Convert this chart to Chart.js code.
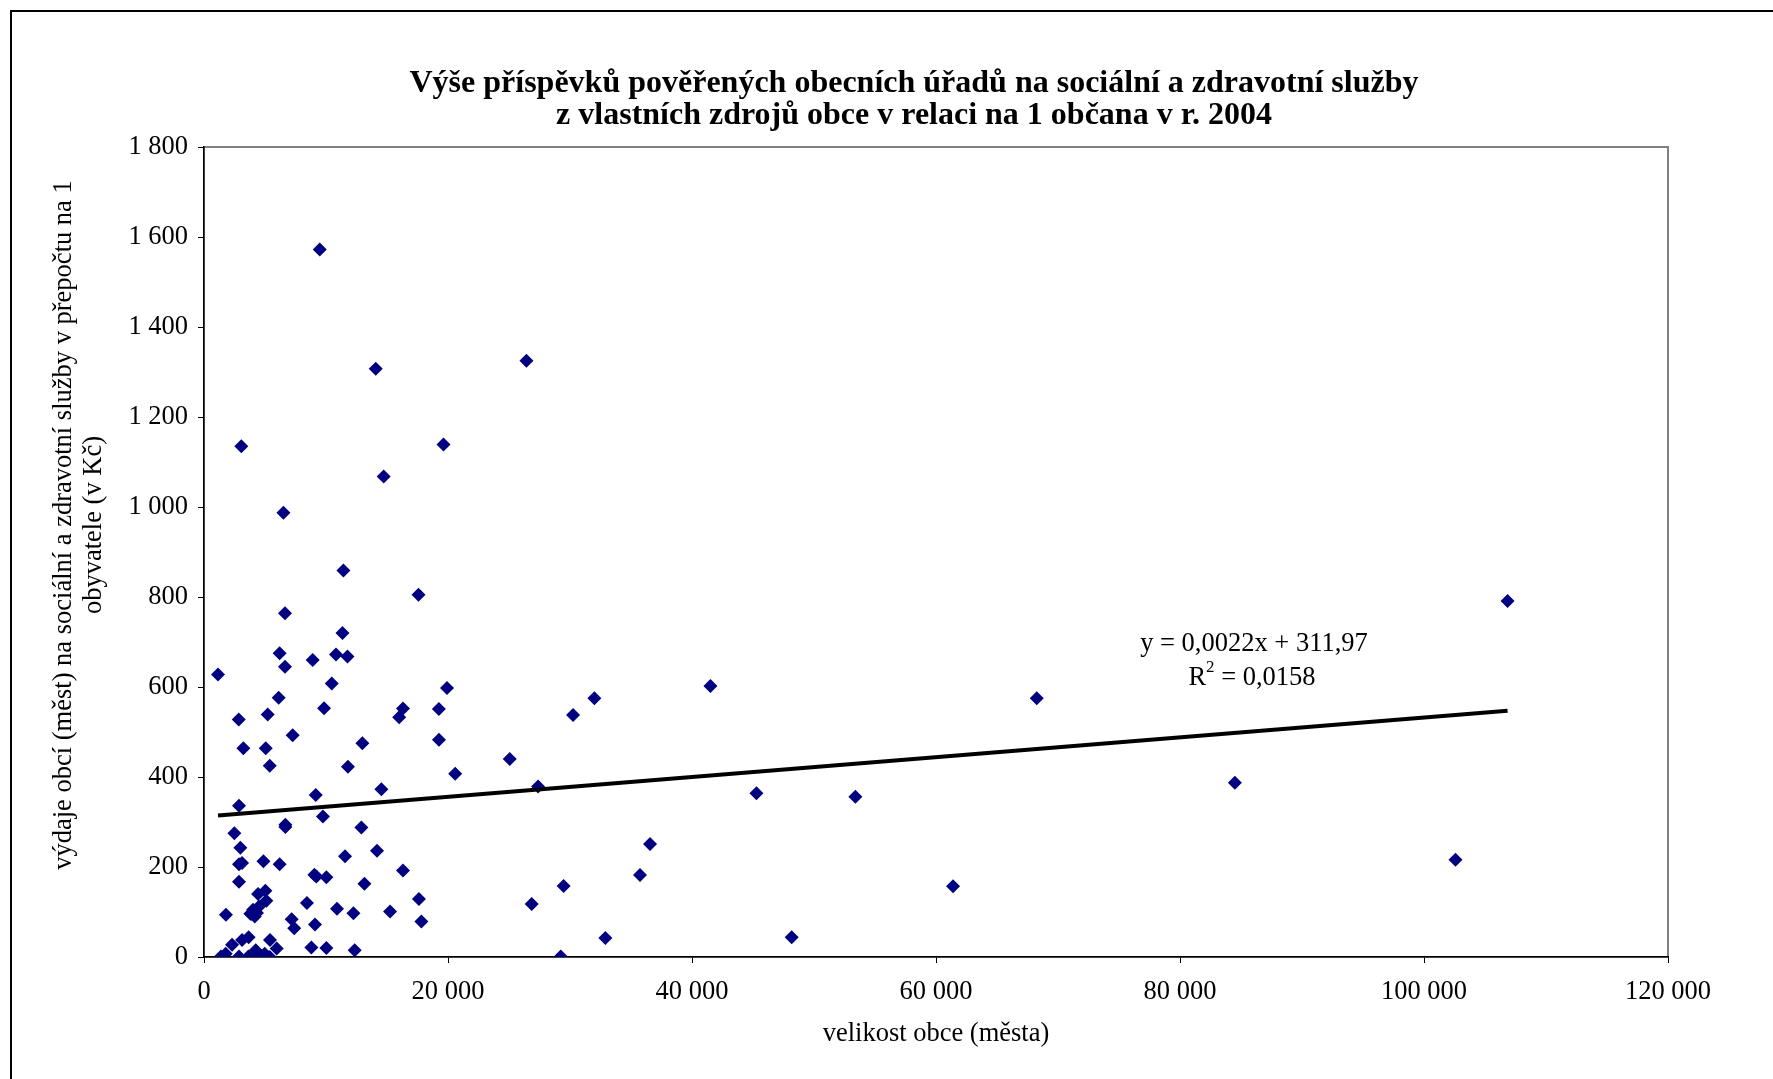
<!DOCTYPE html>
<html>
<head>
<meta charset="utf-8">
<script src="https://cdn.jsdelivr.net/npm/chart.js@4/dist/chart.umd.min.js"></script>
<style>
  html, body { margin: 0; padding: 0; background: #fff; overflow: hidden; }
  #wrap { position: relative; width: 1773px; height: 1079px; }
  #frame { position: absolute; left: 10px; top: 10px; width: 1800px; height: 1100px; border: 2px solid #000; box-sizing: border-box; pointer-events: none; }
</style>
</head>
<body>
<div id="wrap">
  <canvas id="scatterChart" width="1773" height="1079"></canvas>
  <div id="frame"></div>
</div>
<script>
// velikost obce (počet obyvatel)
const popSize = [
  1150, 9490, 3060, 14080, 26430, 19630, 14730, 6510, 11430, 17580,
  6640, 11350, 106850, 6200, 10820, 11760, 8910, 6640, 41510, 19920,
  10470, 6120, 32000, 68260, 9840, 16310, 19250, 16000, 30250, 5220,
  2850, 7270, 19260, 3230, 5060, 12980, 25060, 5390, 11800, 20590,
  84500, 27380, 14540, 45280, 53390, 9160, 2870, 9750, 6670, 6670,
  12900, 2490, 2980, 36560, 14180, 11560, 102580, 4870, 6200, 2870,
  3120, 16310, 35740, 9050, 9210, 10030, 2870, 13150, 29480, 61400,
  5030, 4430, 5110, 17620, 26860, 8440, 10900, 12250, 15250, 4020,
  4510, 4340, 3890, 1800, 17820, 7190, 7400, 9100, 2300, 3120,
  3660, 5410, 5960, 8800, 10030, 12350, 32900, 48170, 29240, 1390,
  1780, 2870, 3640, 4240, 4620, 4980, 5390, 4160, 3800
]

// výdaje na 1 obyvatele (Kč)
const perCapita = [
  628, 1572, 1135, 1307, 1325, 1139, 1068, 987, 859, 805,
  764, 720, 791, 675, 672, 668, 660, 645, 602, 598,
  608, 576, 575, 575, 553, 552, 551, 533, 538, 539,
  528, 493, 483, 464, 464, 475, 440, 425, 423, 407,
  387, 379, 373, 364, 356, 360, 336, 312, 294, 289,
  288, 275, 243, 251, 236, 224, 216, 213, 206, 206,
  209, 192, 182, 183, 179, 177, 167, 163, 158, 157,
  147, 140, 125, 129, 118, 120, 107, 97, 101, 105,
  112, 98, 96, 94, 79, 84, 64, 72, 27, 38,
  44, 38, 19, 21, 20, 15, 42, 44, 1, 1,
  7, 1, 1, 15, 1, 7, 0, 90, 96
]

// lineární trend (Excel)
const trendSlope = 0.0022
const trendIntercept = 311.97
const trendLabel = ["y = 0,0022x + 311,97", "R", "2", " = 0,0158"]

const chartTitle = [
  "Výše příspěvků pověřených obecních úřadů na sociální a zdravotní služby",
  "z vlastních zdrojů obce v relaci na 1 občana v r. 2004"
]
const yTitle = [
  "výdaje obcí (měst) na sociální a zdravotní služby v přepočtu na 1",
  "obyvatele (v Kč)"
]
const xTitle = "velikost obce (města)"

const xTicksMax = 120000
const xStep = 20000
const yTicksMax = 1800
const yStep = 200

const serif = '"Liberation Serif", "Times New Roman", serif'

let points = popSize.map((x, i) => ({ x: x, y: perCapita[i] }))
let xMin = Math.min(...popSize)
let xMax = Math.max(...popSize)
let trendPoints = [
  { x: xMin, y: trendIntercept + trendSlope * xMin },
  { x: xMax, y: trendIntercept + trendSlope * xMax }
]

function spaced(v) {
  return String(v).replace(/\B(?=(\d{3})+(?!\d))/g, ' ')
}

const excelExtras = {
  id: 'excelExtras',
  beforeDraw(chart) {
    const ctx = chart.ctx
    const a = chart.chartArea
    ctx.save()
    ctx.fillStyle = '#fff'
    ctx.fillRect(0, 0, chart.width, chart.height)
    ctx.strokeStyle = '#808080'
    ctx.lineWidth = 2
    ctx.strokeRect(a.left, a.top, a.right - a.left, a.bottom - a.top)
    ctx.restore()
  },
  afterDraw(chart) {
    const ctx = chart.ctx
    ctx.save()
    ctx.fillStyle = '#000'
    ctx.textAlign = 'center'
    ctx.textBaseline = 'middle'

    // nadpis
    ctx.font = 'bold 32px ' + serif
    ctx.fillText(chartTitle[0], 914, 84)
    ctx.fillText(chartTitle[1], 914, 116)

    // popis osy y
    ctx.font = '26.5px ' + serif
    ctx.save()
    ctx.translate(64, 525)
    ctx.rotate(-Math.PI / 2)
    ctx.fillText(yTitle[0], 0, 0)
    ctx.restore()
    ctx.save()
    ctx.translate(94, 525)
    ctx.rotate(-Math.PI / 2)
    ctx.fillText(yTitle[1], 0, 0)
    ctx.restore()

    // rovnice trendu
    ctx.font = '26.5px ' + serif
    ctx.fillText(trendLabel[0], 1254, 644)
    ctx.textAlign = 'left'
    let wR = ctx.measureText(trendLabel[1]).width
    let wRest = ctx.measureText(trendLabel[3]).width
    ctx.font = '17px ' + serif
    let wSup = ctx.measureText(trendLabel[2]).width
    let start = 1252 - (wR + wSup + wRest) / 2
    ctx.font = '26.5px ' + serif
    ctx.fillText(trendLabel[1], start, 678)
    ctx.fillText(trendLabel[3], start + wR + wSup, 678)
    ctx.font = '17px ' + serif
    ctx.fillText(trendLabel[2], start + wR, 668)
    ctx.restore()
  }
}

let scatterChart = new Chart("scatterChart", {
  type: "scatter",
  data: {
    datasets: [{
      type: 'line',
      label: 'trend',
      data: trendPoints,
      borderColor: '#000',
      borderWidth: 4,
      pointRadius: 0,
      fill: false
    }, {
      label: 'obce',
      data: points,
      pointStyle: 'rectRot',
      pointRadius: 7,
      backgroundColor: '#000080',
      borderColor: '#000080',
      borderWidth: 0
    }]
  },
  options: {
    responsive: false,
    animation: false,
    events: [],
    layout: { padding: { left: 0, top: 147, right: 105, bottom: 0 } },
    plugins: {
      legend: { display: false },
      tooltip: { enabled: false },
      title: { display: false }
    },
    scales: {
      x: {
        type: 'linear',
        min: 0,
        max: xTicksMax,
        afterFit: function (scale) { scale.height = 122 },
        border: { color: '#000', width: 1.5 },
        grid: { drawOnChartArea: false, drawTicks: true, tickLength: 6, tickColor: '#000' },
        ticks: {
          stepSize: xStep,
          padding: 13,
          color: '#000',
          maxRotation: 0,
          font: { family: serif, size: 26.5 },
          callback: (v) => spaced(v)
        },
        title: {
          display: true,
          text: xTitle,
          color: '#000',
          font: { family: serif, size: 26.5 },
          padding: { top: 0, bottom: 29 }
        }
      },
      y: {
        min: 0,
        max: yTicksMax,
        afterFit: function (scale) { scale.width = 204 },
        border: { color: '#000', width: 1.5 },
        grid: { drawOnChartArea: false, drawTicks: true, tickLength: 6, tickColor: '#000' },
        ticks: {
          stepSize: yStep,
          padding: 10,
          color: '#000',
          font: { family: serif, size: 26.5 },
          callback: (v) => spaced(v)
        }
      }
    }
  },
  plugins: [excelExtras]
});
</script>
</body>
</html>
